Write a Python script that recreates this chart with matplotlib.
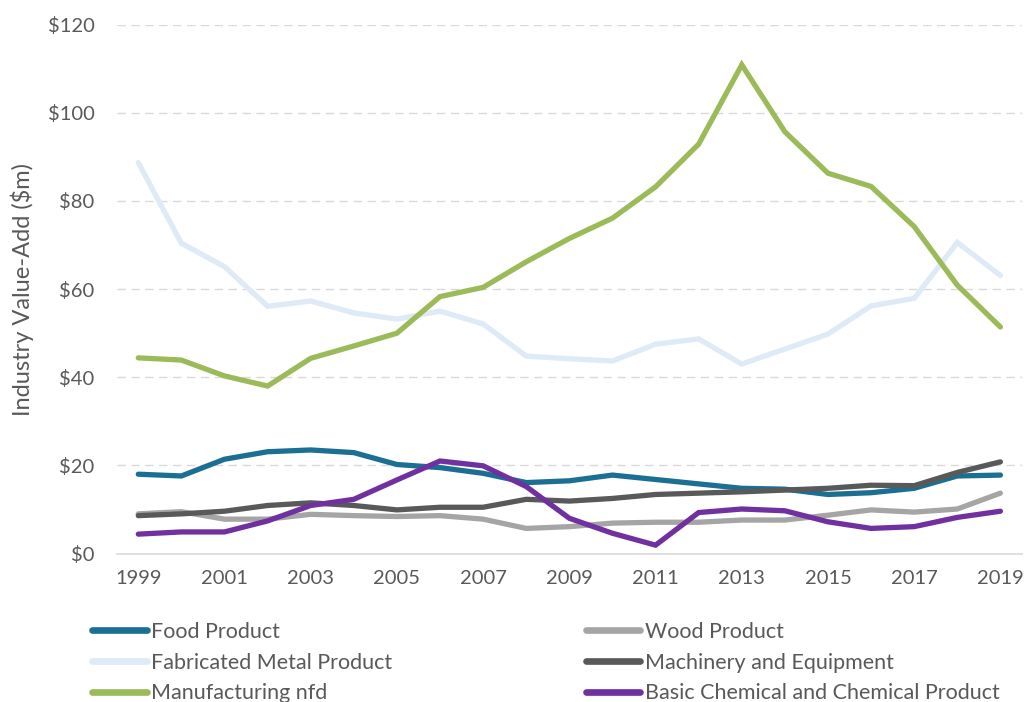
import matplotlib
matplotlib.use("Agg")
import matplotlib.pyplot as plt
from matplotlib.ticker import FuncFormatter, MultipleLocator

plt.rcParams["font.family"] = ["Lato", "DejaVu Sans"]

years = list(range(1999, 2020))

food_product = [18.0, 17.6, 21.4, 23.1, 23.5, 22.9, 20.2, 19.5, 18.2, 16.1, 16.5,
                17.8, 16.8, 15.8, 14.8, 14.6, 13.4, 13.8, 14.8, 17.6, 17.8]
wood_product = [9.0, 9.5, 7.8, 7.8, 8.9, 8.6, 8.4, 8.6, 7.8, 5.7, 6.1,
                6.9, 7.1, 7.1, 7.6, 7.6, 8.7, 9.9, 9.4, 10.1, 13.7]
fabricated_metal = [88.7, 70.4, 65.1, 56.1, 57.3, 54.6, 53.2, 55.0, 52.1, 44.8, 44.2,
                    43.7, 47.5, 48.7, 43.0, 46.4, 49.8, 56.2, 57.9, 70.6, 63.1]
machinery = [8.6, 9.0, 9.6, 10.9, 11.5, 10.9, 9.9, 10.5, 10.5, 12.3, 11.9,
             12.5, 13.4, 13.7, 14.0, 14.4, 14.8, 15.5, 15.4, 18.4, 20.8]
manufacturing_nfd = [44.4, 43.9, 40.3, 38.0, 44.3, 47.1, 50.0, 58.3, 60.4, 66.2, 71.5,
                     76.1, 83.2, 92.9, 110.9, 95.7, 86.3, 83.3, 74.2, 60.9, 51.4]
basic_chemical = [4.4, 4.9, 4.9, 7.4, 10.9, 12.3, 16.7, 21.0, 19.9, 15.2, 8.0,
                  4.6, 1.9, 9.3, 10.1, 9.7, 7.2, 5.7, 6.1, 8.2, 9.6]

series = [
    ("Food Product", food_product, "#1B6F93"),
    ("Wood Product", wood_product, "#A5A5A5"),
    ("Fabricated Metal Product", fabricated_metal, "#DEEAF6"),
    ("Machinery and Equipment", machinery, "#595959"),
    ("Manufacturing nfd", manufacturing_nfd, "#9BBB59"),
    ("Basic Chemical and Chemical Product", basic_chemical, "#7030A0"),
]

text_color = "#595959"
grid_color = "#D9D9D9"

fig = plt.figure(figsize=(10.24, 7.02), dpi=100)
ax = fig.add_axes([0.114, 0.2115, 0.884, 0.7533])

lines = {}
for name, values, color in series:
    (line,) = ax.plot(years, values, color=color, lw=3.8,
                      solid_capstyle="round", solid_joinstyle="miter", label=name)
    lines[name] = line

ax.set_xlim(1998.5, 2019.5)
ax.set_ylim(0, 120)
ax.yaxis.set_major_locator(MultipleLocator(20))
ax.yaxis.set_major_formatter(FuncFormatter(lambda v, _: f"${v:.0f}"))
ax.set_xticks(years[::2])

ax.grid(axis="y", color=grid_color, lw=1.0, linestyle=(0, (6, 4)))
ax.set_axisbelow(True)
for side in ("top", "right", "left"):
    ax.spines[side].set_visible(False)
ax.spines["bottom"].set_color(grid_color)
ax.spines["bottom"].set_linewidth(1.2)

ax.tick_params(axis="both", length=0, labelsize=14.5, labelcolor=text_color)
ax.tick_params(axis="y", pad=16)
ax.tick_params(axis="x", pad=12)
ax.set_ylabel("Industry Value-Add ($m)", fontsize=17, color=text_color, labelpad=10)

# legend reads row by row: Food/Wood, Fabricated/Machinery, Manufacturing/Chemical
order = ["Food Product", "Fabricated Metal Product", "Manufacturing nfd",
         "Wood Product", "Machinery and Equipment", "Basic Chemical and Chemical Product"]
leg = fig.legend([lines[n] for n in order], order, ncol=2,
                 loc="upper left", bbox_to_anchor=(0.09, 0.114),
                 frameon=False, fontsize=15.5, handlelength=2.55, handletextpad=0.2,
                 columnspacing=8.97, labelspacing=0.5, borderaxespad=0, borderpad=0)
for t in leg.get_texts():
    t.set_color(text_color)
for h in leg.get_lines():
    h.set_linewidth(4.8)
    h.set_solid_capstyle("round")

fig.savefig("out.png", dpi=100)
